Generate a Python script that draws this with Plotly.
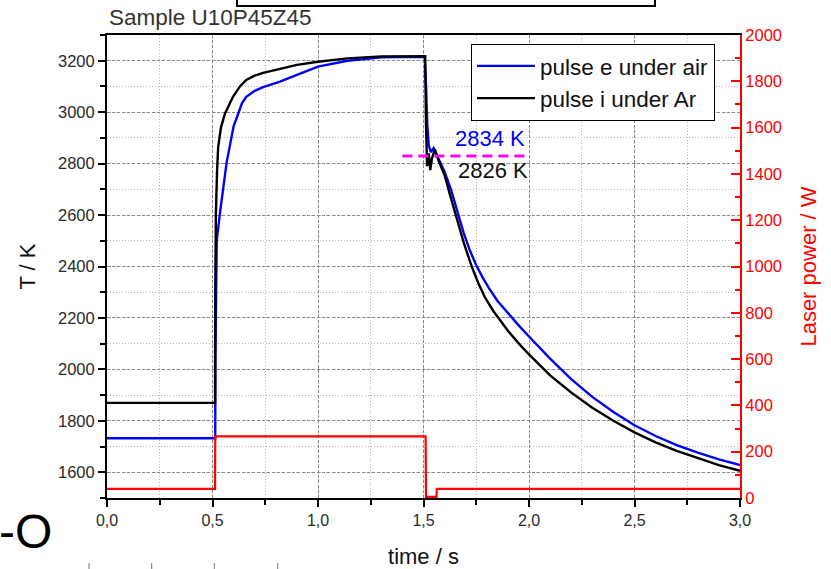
import plotly.graph_objects as go

# ---- data ----
time_air = [0.0, 0.25, 0.513, 0.514, 0.516, 0.52, 0.536, 0.567, 0.6, 0.64, 0.66, 0.7, 0.74, 0.82, 0.9,
            1.0, 1.14, 1.3, 1.5, 1.506, 1.512, 1.518, 1.525, 1.535, 1.548, 1.56, 1.6, 1.63, 1.66, 1.69,
            1.72, 1.75, 1.78, 1.81, 1.85, 1.9, 1.95, 2.0, 2.1, 2.2, 2.3, 2.4, 2.5, 2.6, 2.7, 2.8, 2.9, 3.0]
T_air = [1732, 1733, 1732, 2055, 2380, 2500, 2612, 2805, 2945, 3035, 3060, 3083, 3097, 3119, 3145,
         3177, 3200, 3213, 3215, 3212, 3100, 2950, 2870, 2845, 2860, 2840, 2768, 2700, 2615, 2532,
         2462, 2405, 2358, 2316, 2267, 2218, 2172, 2128, 2042, 1962, 1893, 1834, 1783, 1741, 1706, 1676, 1650, 1628]

time_ar = [0.0, 0.25, 0.512, 0.513, 0.516, 0.522, 0.527, 0.54, 0.559, 0.597, 0.63, 0.66, 0.7, 0.74,
           0.82, 0.9, 1.0, 1.14, 1.3, 1.5, 1.508, 1.512, 1.517, 1.525, 1.532, 1.54, 1.554, 1.57, 1.6,
           1.625, 1.649, 1.67, 1.69, 1.71, 1.73, 1.76, 1.79, 1.83, 1.863, 1.9, 1.95, 2.0, 2.1, 2.2, 2.3,
           2.4, 2.5, 2.6, 2.7, 2.8, 2.9, 3.0]
T_ar = [1870, 1869, 1870, 2300, 2605, 2780, 2865, 2940, 2994, 3060, 3100, 3125, 3142, 3153,
        3168, 3184, 3196, 3209, 3217, 3220, 3218, 2950, 2790, 2840, 2775, 2820, 2855, 2815, 2755,
        2680, 2610, 2550, 2495, 2445, 2397, 2335, 2282, 2228, 2190, 2150, 2102, 2058, 1977, 1910, 1851,
        1800, 1755, 1716, 1683, 1654, 1628, 1606]

time_laser = [0.0, 0.512, 0.513, 1.51, 1.512, 1.562, 1.563, 3.0]
P_laser = [39, 39, 266, 266, 5, 5, 39, 39]

mark_t = [1.4, 2.0]
mark_T = [2830, 2830]
label_air = "2834 K"
label_ar = "2826 K"

x_ticks = [0.0, 0.5, 1.0, 1.5, 2.0, 2.5, 3.0]
y_ticks = [1600, 1800, 2000, 2200, 2400, 2600, 2800, 3000, 3200]
p_ticks = [0, 200, 400, 600, 800, 1000, 1200, 1400, 1600, 1800, 2000]

FONT = "Liberation Sans, Arial, sans-serif"
TXT = "#2a2a2a"

fig = go.Figure()
fig.add_trace(go.Scatter(x=time_laser, y=P_laser, mode="lines", yaxis="y2",
                         line=dict(color="#ff0000", width=2.2), showlegend=False))
fig.add_trace(go.Scatter(x=time_air, y=T_air, mode="lines", name="pulse e under air",
                         line=dict(color="#0000ff", width=2.4)))
fig.add_trace(go.Scatter(x=time_ar, y=T_ar, mode="lines", name="pulse i under Ar",
                         line=dict(color="#000000", width=2.4)))
fig.add_trace(go.Scatter(x=mark_t, y=mark_T, mode="lines", showlegend=False,
                         line=dict(color="#ff00ff", width=3, dash="10px,6px")))

fig.update_layout(
    width=831, height=569,
    margin=dict(l=107, r=91, t=35, b=71, autoexpand=False),
    paper_bgcolor="white", plot_bgcolor="white",
    separators=",.",
    font=dict(family=FONT, color=TXT, size=16),
    showlegend=True,
    legend=dict(x=0.575, y=0.981, xanchor="left", yanchor="top",
                bgcolor="white", bordercolor="#000000", borderwidth=1,
                font=dict(size=22.5, color="#111111", family=FONT),
                itemwidth=58, tracegroupgap=0),
    xaxis=dict(range=[0, 3.0], tickvals=x_ticks, tickformat=".1f", automargin=False,
               showline=True, linecolor="black", linewidth=2, mirror=True,
               ticks="outside", ticklen=7, tickwidth=1.5, tickcolor="black",
               tickfont=dict(size=16, color=TXT),
               showgrid=True, gridcolor="#8a8a8a", gridwidth=1, griddash="3px,2px",
               minor=dict(dtick=0.25, ticks="outside", ticklen=5, tickcolor="black",
                          showgrid=True, gridcolor="#b5b5b5", griddash="1px,2px"),
               zeroline=False,
               title=dict(text="time / s", font=dict(size=22, color="#111111"), standoff=22)),
    yaxis=dict(range=[1500, 3300], tickvals=y_ticks, automargin=False,
               showline=True, linecolor="black", linewidth=2,
               ticks="outside", ticklen=7, tickwidth=1.5, tickcolor="black",
               tickfont=dict(size=16.5, color=TXT),
               showgrid=True, gridcolor="#8a8a8a", gridwidth=1, griddash="3px,2px",
               minor=dict(dtick=100, tick0=1500, ticks="outside", ticklen=5, tickcolor="black",
                          showgrid=True, gridcolor="#b5b5b5", griddash="1px,2px"),
               zeroline=False,
               title=dict(text="T / K", font=dict(size=22, color="#111111"), standoff=16)),
    yaxis2=dict(range=[0, 2000], tickvals=p_ticks, overlaying="y", side="right", automargin=False,
                showline=True, linecolor="#ff0000", linewidth=2,
                ticks="inside", ticklen=9, tickwidth=1.5, tickcolor="#ff0000",
                tickfont=dict(size=16.5, color="#ff0000"),
                minor=dict(dtick=100, ticks="inside", ticklen=5, tickcolor="#ff0000"),
                showgrid=False, zeroline=False,
                title=dict(text="Laser power / W", font=dict(size=22, color="#ff0000"), standoff=20)),
)

fig.add_annotation(x=1.815, y=2896, xref="x", yref="y", text=label_air, showarrow=False,
                   font=dict(size=22, color="#0000ff", family=FONT))
fig.add_annotation(x=1.829, y=2772, xref="x", yref="y", text=label_ar, showarrow=False,
                   font=dict(size=22, color="#111111", family=FONT))

# title
fig.add_annotation(x=0, y=1 + (35 - 18) / 463, xref="paper", yref="paper", xanchor="left",
                   yanchor="middle", text="Sample U10P45Z45", showarrow=False,
                   font=dict(size=22.5, color="#333333", family=FONT))
# cropped "-O" fragment at bottom left
fig.add_annotation(x=(54 - 107) / 633, y=-(531 - 498) / 463, xref="paper", yref="paper",
                   xanchor="right", yanchor="middle", text="-O", showarrow=False,
                   font=dict(size=48, color="#000000", family=FONT))

# cropped box at top
fig.add_shape(type="rect", xref="paper", yref="paper",
              x0=(237 - 107) / 633, x1=(655 - 107) / 633,
              y0=1 + (35 - 6) / 463, y1=1.2,
              line=dict(color="black", width=2), fillcolor="rgba(0,0,0,0)")
# cropped tick marks at the very bottom
for px in [89, 151.7, 214.3, 277.7]:
    fig.add_shape(type="line", xref="paper", yref="paper",
                  x0=(px - 107) / 633, x1=(px - 107) / 633,
                  y0=-(563 - 498) / 463, y1=-(572 - 498) / 463,
                  line=dict(color="#777777", width=1))

fig.write_html("out.html", config={"displayModeBar": False},
               post_script="document.body.style.margin='0';document.body.style.overflow='hidden';")
